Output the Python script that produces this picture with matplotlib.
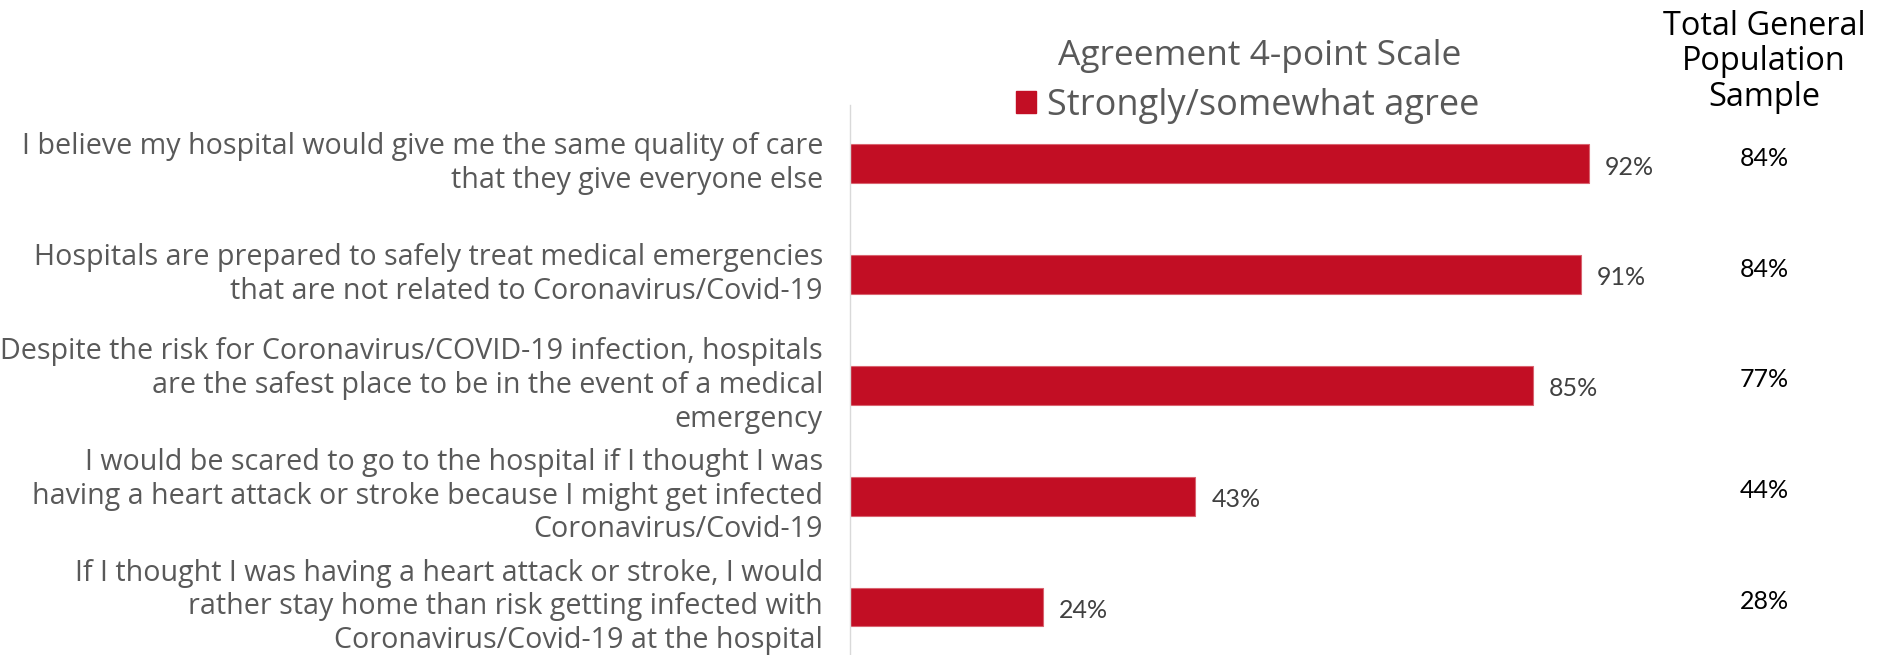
import numpy as np
import matplotlib.pyplot as plt
from matplotlib.patches import Patch

## Survey statements, top to bottom
Statements = [
    "I believe my hospital would give me the same quality of care\nthat they give everyone else",
    "Hospitals are prepared to safely treat medical emergencies\nthat are not related to Coronavirus/Covid-19",
    "Despite the risk for Coronavirus/COVID-19 infection, hospitals\nare the safest place to be in the event of a medical\nemergency",
    "I would be scared to go to the hospital if I thought I was\nhaving a heart attack or stroke because I might get infected\nCoronavirus/Covid-19",
    "If I thought I was having a heart attack or stroke, I would\nrather stay home than risk getting infected with\nCoronavirus/Covid-19 at the hospital",
]

## Strongly/somewhat agree share for the sample
Agree_Percent = [92, 91, 85, 43, 24]

## Total general population sample, shown as a side column
General_Population = [84, 84, 77, 44, 28]

Bar_Colour = "#C20E24"
Label_Grey = "#595959"
Value_Grey = "#404040"

plt.rcParams['font.family'] = ['Open Sans', 'DejaVu Sans']
Narrow = ['Lato', 'DejaVu Sans']

W, H = 1881, 655
fig = plt.figure(figsize=(W / 100, H / 100), dpi=100)

## Axes placed in pixel terms: left edge at the vertical axis line
ax_left, ax_right = 850, 1653
ax_top = 105
ax = fig.add_axes([ax_left / W, 0, (ax_right - ax_left) / W, 1 - ax_top / H])

y_pos = np.arange(len(Statements))
ax.barh(y_pos, Agree_Percent, height=0.35, color=Bar_Colour,
        edgecolor="#D9636F", linewidth=0.8)

ax.set_xlim(0, 100)
ax.set_ylim(4.434, -0.531)

## Only the left spine stays, in light grey
for side in ["top", "right", "bottom"]:
    ax.spines[side].set_visible(False)
ax.spines["left"].set_color("#D9D9D9")
ax.spines["left"].set_linewidth(1.0)
ax.set_xticks([])
ax.set_yticks(y_pos)
ax.set_yticklabels(Statements, fontsize=20.6, color=Label_Grey,
                   linespacing=1.22, ha="right", va="center")
ax.tick_params(axis="y", length=0, pad=19.5)

## Value labels at the bar ends
for y, v in zip(y_pos, Agree_Percent):
    ax.text(v + 2.0, y + 0.03, f"{v}%", va="center", ha="left",
            fontsize=18, color=Value_Grey, family=Narrow)

## Side column for the general population
col_x = (1764 - ax_left) / 8.03
for y, v in zip(y_pos, General_Population):
    ax.text(col_x, y - 0.05, f"{v}%", va="center", ha="center",
            fontsize=18, color="black", clip_on=False, family=Narrow)

fig.text(1764 / W, 1 - 62 / H, "Total General\nPopulation\nSample",
         ha="center", va="center", fontsize=23.4, color="black", linespacing=1.1)

fig.text(1260 / W, 1 - 56 / H, "Agreement 4-point Scale",
         ha="center", va="center", fontsize=25.5, color=Label_Grey)

## Legend for the single series
legend = fig.legend(handles=[Patch(facecolor=Bar_Colour, edgecolor=Bar_Colour)],
                    labels=["Strongly/somewhat agree"],
                    loc="center left", bbox_to_anchor=(1016 / W, 1 - 106 / H),
                    frameon=False, fontsize=26, handlelength=0.55,
                    handleheight=0.55, handletextpad=0.3, borderpad=0,
                    borderaxespad=0)
for t in legend.get_texts():
    t.set_color(Label_Grey)

fig.savefig("out.png", dpi=100)
